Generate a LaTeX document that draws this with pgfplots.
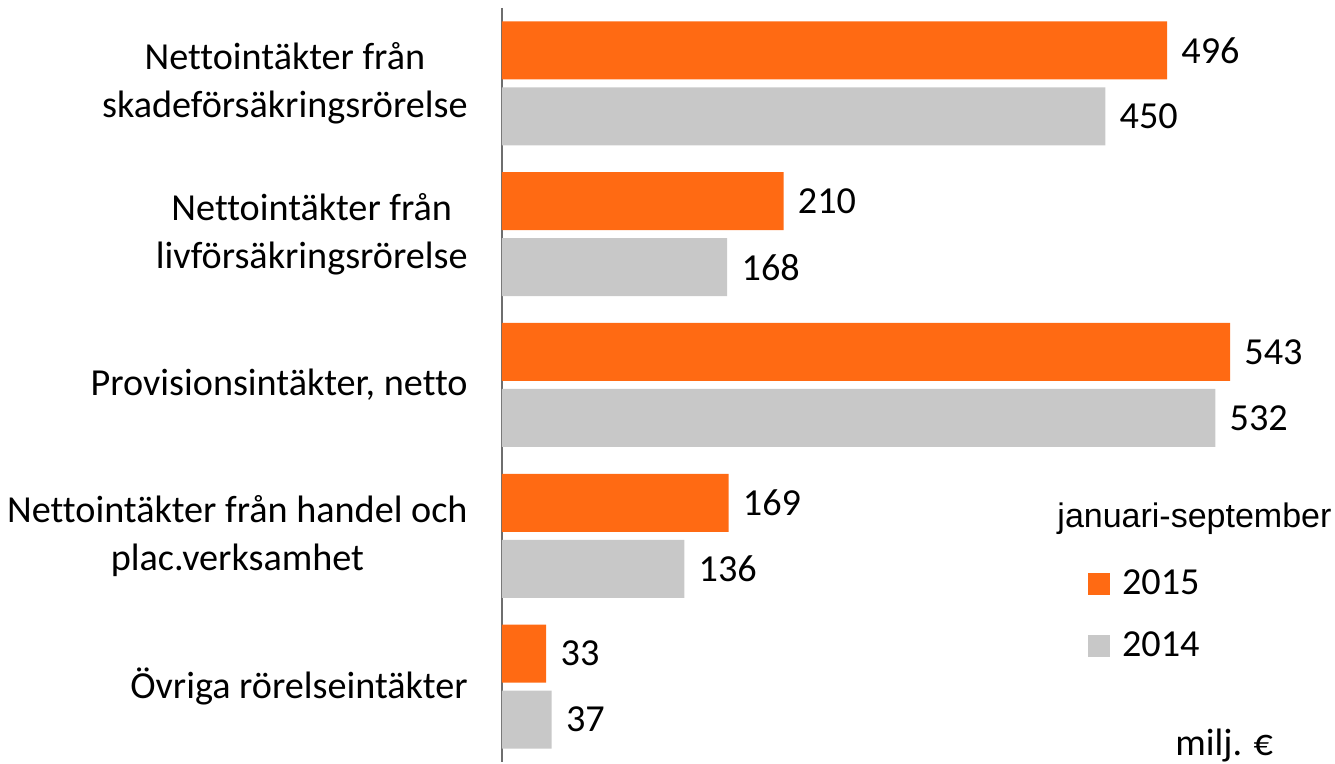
\documentclass[border=0pt]{standalone}
\usepackage{pgfplots}
\pgfplotsset{compat=1.18}
\usepackage{fontspec}
\setmainfont{Carlito}[Ligatures=NoCommon]
\newfontfamily\arialfont{Liberation Sans}
\definecolor{orng}{RGB}{255,106,19}
\definecolor{gry}{RGB}{200,200,200}
\definecolor{axgray}{RGB}{110,110,110}
\newcommand{\cfont}{\fontsize{19.1pt}{24pt}\selectfont}
\begin{document}
\begin{tikzpicture}
\useasboundingbox (0,0) rectangle (667.5pt,382pt);
\begin{axis}[
  at={(251pt,1pt)}, anchor=south west,
  scale only axis, width=416.5pt, height=377pt,
  xmin=0, xmax=621.3, ymin=-0.5, ymax=4.5, y dir=reverse,
  xbar, bar width=29pt,
  axis x line=none, axis y line*=left,
  axis line style={-, draw=axgray, line width=1pt},
  ytick={0,1,2,3,4},
  yticklabels={{Nettointäkter från\\skadeförsäkringsrörelse},{Nettointäkter från\\livförsäkringsrörelse},{Provisionsintäkter, netto},{Nettointäkter från handel och\\plac.verksamhet},{Övriga rörelseintäkter}},
  yticklabel style={align=center, font=\cfont, inner sep=0pt, xshift=-17pt},
  major tick length=0pt, tick style={draw=none},
  clip=false,
  point meta=x,
  /pgf/number format/assume math mode=true,
  nodes near coords,
  every node near coord/.append style={anchor=west, inner sep=0pt, xshift=7pt, font=\cfont, text=black},
  legend image code/.code={\fill[#1] (0pt,-5.5pt) rectangle (11pt,5.5pt);},
  legend style={at={(axis cs:437.1,3.227)}, anchor=north west, draw=none, fill=none, inner sep=0pt, outer sep=0pt, row sep=17pt, column sep=6pt, font=\cfont, nodes={inner sep=0pt}},
  legend cell align=left,
]
\addplot[fill=orng, draw=none, bar shift=16.5pt] coordinates {(496,0) (210,1) (543,2) (169,3) (33,4)};
\addplot[fill=gry, draw=none, bar shift=-16.5pt] coordinates {(450,0) (168,1) (532,2) (136,3) (37,4)};
\legend{2015,2014}
\node[anchor=base west, inner sep=0pt, font=\arialfont\fontsize{17pt}{20pt}\selectfont] at (axis cs:414,2.942) {januari-september};
\node[anchor=base west, inner sep=0pt, font=\cfont] at (axis cs:502,4.46) {milj. €};
\end{axis}
\end{tikzpicture}
\end{document}
